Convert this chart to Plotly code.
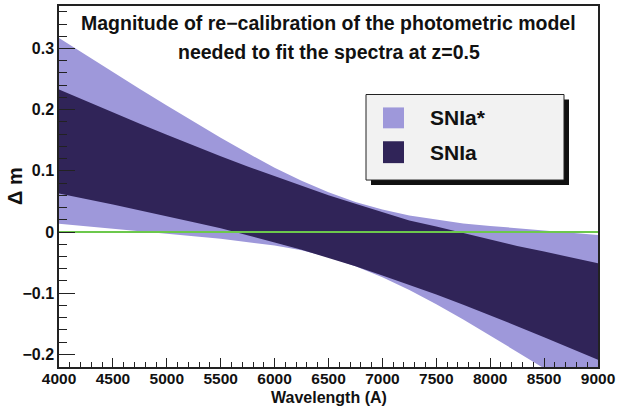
import plotly.graph_objects as go

# Wavelength grid (Angstrom)
wavelength = [4000, 4250, 4500, 4750, 5000, 5250, 5500, 5750, 6000, 6250, 6500,
              6750, 7000, 7250, 7500, 7750, 8000, 8250, 8500, 8750, 9000]

# SNIa* band (light)
snia_star_upper = [0.317, 0.289, 0.261, 0.234, 0.207, 0.180, 0.154, 0.129, 0.105, 0.084, 0.065,
                   0.049, 0.037, 0.027, 0.020, 0.014, 0.010, 0.006, 0.002, -0.001, -0.005]
snia_star_lower = [0.0135, 0.009, 0.005, 0.001, -0.003, -0.007, -0.011, -0.016, -0.022, -0.030, -0.041,
                   -0.056, -0.074, -0.095, -0.118, -0.143, -0.169, -0.196, -0.223, -0.250, -0.278]

# SNIa band (dark)
snia_upper = [0.233, 0.214, 0.196, 0.177, 0.159, 0.141, 0.124, 0.107, 0.091, 0.075, 0.060,
              0.046, 0.033, 0.019, 0.009, -0.002, -0.013, -0.023, -0.032, -0.042, -0.051]
snia_lower = [0.063, 0.054, 0.045, 0.036, 0.026, 0.016, 0.006, -0.005, -0.017, -0.029, -0.042,
              -0.056, -0.071, -0.086, -0.102, -0.119, -0.136, -0.154, -0.172, -0.190, -0.209]

series_names = ["SNIa*", "SNIa"]
title_lines = ["Magnitude of re\u2212calibration of the photometric model",
               "needed to fit the spectra at z=0.5"]

LIGHT = "#9e98da"
DARK = "#302458"
GREEN = "#6cc84c"
FONT = "Liberation Sans, Arial, Helvetica, sans-serif"

fig = go.Figure()
fig.add_trace(go.Scatter(
    x=wavelength + wavelength[::-1],
    y=snia_star_upper + snia_star_lower[::-1],
    fill="toself", fillcolor=LIGHT, line=dict(width=0), mode="lines",
    name=series_names[0], showlegend=False, hoverinfo="skip"))
fig.add_trace(go.Scatter(
    x=wavelength + wavelength[::-1],
    y=snia_upper + snia_lower[::-1],
    fill="toself", fillcolor=DARK, line=dict(width=0), mode="lines",
    name=series_names[1], showlegend=False, hoverinfo="skip"))
fig.add_trace(go.Scatter(
    x=[wavelength[0], wavelength[-1]], y=[0, 0], mode="lines",
    line=dict(color=GREEN, width=2), showlegend=False, hoverinfo="skip"))

# manual ROOT-style legend
def px_x(p):
    return (p - 59) / 539.0

def px_y(p):
    return (367 - p) / 363.0

shapes = [
    dict(type="rect", xref="paper", yref="paper", x0=px_x(371), x1=px_x(569),
         y0=px_y(184), y1=px_y(98), fillcolor="#111111", line=dict(width=0), layer="above"),
    dict(type="rect", xref="paper", yref="paper", x0=px_x(366), x1=px_x(564),
         y0=px_y(179), y1=px_y(93), fillcolor="#f2f2f2", line=dict(color="#222222", width=1), layer="above"),
    dict(type="rect", xref="paper", yref="paper", x0=px_x(383), x1=px_x(404),
         y0=px_y(127), y1=px_y(106), fillcolor=LIGHT, line=dict(width=0), layer="above"),
    dict(type="rect", xref="paper", yref="paper", x0=px_x(383), x1=px_x(404),
         y0=px_y(162), y1=px_y(140), fillcolor=DARK, line=dict(width=0), layer="above"),
]

annotations = [
    dict(text=series_names[0], xref="paper", yref="paper", x=px_x(428), y=px_y(116.5),
         xanchor="left", yanchor="middle", showarrow=False,
         font=dict(family=FONT, size=21, color="#111111", weight="bold")),
    dict(text=series_names[1], xref="paper", yref="paper", x=px_x(428), y=px_y(151),
         xanchor="left", yanchor="middle", showarrow=False,
         font=dict(family=FONT, size=21, color="#111111", weight="bold")),
    dict(text=title_lines[0], xref="paper", yref="paper", x=0.5, y=px_y(21),
         xanchor="center", yanchor="middle", showarrow=False,
         font=dict(family=FONT, size=19.5, color="#111111", weight="bold")),
    dict(text=title_lines[1], xref="paper", yref="paper", x=0.5, y=px_y(50),
         xanchor="center", yanchor="middle", showarrow=False,
         font=dict(family=FONT, size=19.5, color="#111111", weight="bold")),
    dict(text="\u0394 m", xref="paper", yref="paper", x=px_x(15), y=px_y(185),
         xanchor="center", yanchor="middle", textangle=-90, showarrow=False,
         font=dict(family=FONT, size=20, color="#111111", weight="bold")),
    dict(text="Wavelength (A)", xref="paper", yref="paper", x=0.5, y=px_y(398),
         xanchor="center", yanchor="middle", showarrow=False,
         font=dict(family=FONT, size=16, color="#111111", weight="bold")),
]

fig.update_layout(
    width=643, height=410,
    margin=dict(l=59, r=45, t=4, b=43),
    paper_bgcolor="white", plot_bgcolor="white",
    shapes=shapes, annotations=annotations,
    showlegend=False,
)
fig.update_xaxes(
    range=[4000, 9000], dtick=500, tick0=4000,
    ticks="inside", ticklen=9, tickwidth=1, tickcolor="#222222",
    minor=dict(dtick=100, ticks="inside", ticklen=5, tickcolor="#222222", tickwidth=1),
    showgrid=False, zeroline=False,
    showline=True, linecolor="#222222", linewidth=1.5, mirror=True,
    ticklabelstandoff=-3,
    tickfont=dict(family=FONT, size=15.5, color="#111111", weight="bold"),
)
fig.update_yaxes(
    range=[-0.2207, 0.3695], dtick=0.1, tick0=0,
    ticks="inside", ticklen=16, tickwidth=1, tickcolor="#222222",
    minor=dict(dtick=0.02, ticks="inside", ticklen=8, tickcolor="#222222", tickwidth=1),
    showgrid=False, zeroline=False,
    showline=True, linecolor="#222222", linewidth=1.5, mirror=True,
    tickfont=dict(family=FONT, size=16, color="#111111", weight="bold"),
)

fig.write_html("out.html")
